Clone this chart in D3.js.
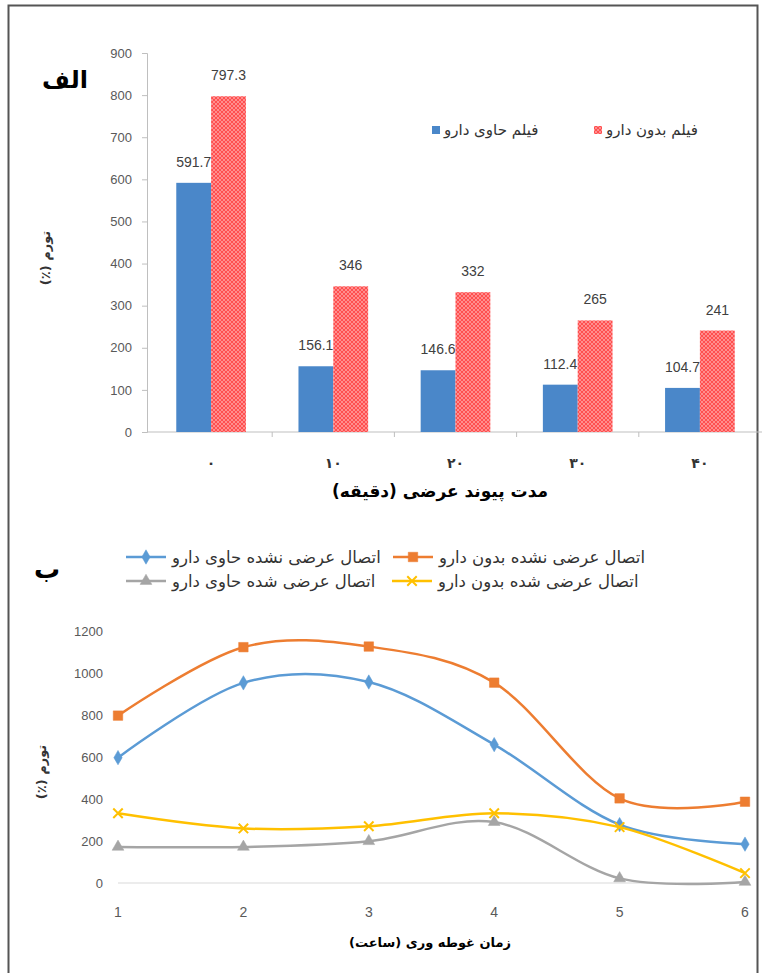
<!DOCTYPE html>
<html>
<head>
<meta charset="utf-8">
<script src="https://cdn.jsdelivr.net/npm/d3@7"></script>
<style>
  body { margin: 0; background: #fff; }
  svg { display: block; }
  text { font-family: "DejaVu Sans", "Liberation Sans", sans-serif; }
  .num { font-family: "Liberation Sans", Arial, sans-serif; }
</style>
</head>
<body>
<svg id="chart" width="763" height="973"></svg>
<script>
// ---- chart A (bars) ----
const catsA = ['۰', '۱۰', '۲۰', '۳۰', '۴۰'];
const seriesA = ['فیلم حاوی دارو', 'فیلم بدون دارو'];
const withDrugA = [591.7, 156.1, 146.6, 112.4, 104.7];
const noDrugA = [797.3, 346, 332, 265, 241];
const yTicksA = [0, 100, 200, 300, 400, 500, 600, 700, 800, 900];

// ---- chart B (lines) ----
const hoursB = [1, 2, 3, 4, 5, 6];
const namesB = [
  'اتصال عرضی نشده حاوی دارو',
  'اتصال عرضی نشده بدون دارو',
  'اتصال عرضی شده حاوی دارو',
  'اتصال عرضی شده بدون دارو'
];
const uncrossDrugB = [597, 953, 957, 659, 278, 185];
const uncrossNoDrugB = [797, 1123, 1126, 954, 403, 387];
const crossDrugB = [172, 172, 199, 290, 22, 5];
const crossNoDrugB = [332, 260, 270, 332, 266, 47];
const yTicksB = [0, 200, 400, 600, 800, 1000, 1200];

let svg = d3.select('#chart');

// frame
svg.append('path')
  .attr('d', 'M8.5,980 V5.5 H757.5 V980')
  .attr('fill', 'none')
  .attr('stroke', '#555')
  .attr('stroke-width', 2);

// hatch for the drug-free bars
let defs = svg.append('defs');
let pat = defs.append('pattern')
  .attr('id', 'hatch')
  .attr('patternUnits', 'userSpaceOnUse')
  .attr('width', 4).attr('height', 4);
pat.append('rect').attr('width', 4).attr('height', 4).attr('fill', '#ff4f4f');
pat.append('path')
  .attr('d', 'M0,0 L4,4 M4,0 L0,4')
  .attr('stroke', '#fff')
  .attr('stroke-opacity', 0.45)
  .attr('stroke-width', 0.8);

const axisGray = '#bfbfbf';
const labelGray = '#595959';

function drawBars() {
  let x = d3.scaleBand().domain(catsA).range([150, 761])
    .paddingInner(0.43).paddingOuter(0.215);
  let sub = d3.scaleBand().domain(seriesA).range([0, x.bandwidth()]);
  let y = d3.scaleLinear().domain([0, 900]).range([432, 53]);

  let g = svg.append('g');

  // y axis
  let ya = g.append('g')
    .attr('transform', 'translate(147,0)')
    .call(d3.axisLeft(y).tickValues(yTicksA).tickSize(5).tickPadding(10));
  ya.select('.domain').attr('stroke', axisGray);
  ya.selectAll('.tick line').attr('stroke', axisGray);
  ya.selectAll('.tick text')
    .attr('class', 'num')
    .attr('fill', labelGray)
    .attr('font-size', 13);

  // x axis, ticks between the groups
  let bounds = catsA.slice(1).map(c => x(c) - x.step() * x.paddingInner() / 2);
  g.append('line')
    .attr('x1', 147).attr('x2', 762)
    .attr('y1', y(0)).attr('y2', y(0))
    .attr('stroke', axisGray);
  g.selectAll('.xtick').data(bounds).join('line')
    .attr('x1', d => d).attr('x2', d => d)
    .attr('y1', y(0)).attr('y2', y(0) + 5)
    .attr('stroke', axisGray);
  g.selectAll('.xlab').data(catsA).join('text')
    .attr('x', d => x(d) + x.bandwidth() / 2)
    .attr('y', 468)
    .attr('text-anchor', 'middle')
    .attr('font-size', 14)
    .attr('font-weight', 'bold')
    .attr('fill', '#333')
    .text(d => d);

  let rows = [
    { name: seriesA[0], vals: withDrugA, fill: '#4a87c9' },
    { name: seriesA[1], vals: noDrugA, fill: 'url(#hatch)' }
  ];
  rows.forEach(r => {
    g.selectAll(null).data(r.vals).join('rect')
      .attr('x', (d, i) => x(catsA[i]) + sub(r.name))
      .attr('y', d => y(d))
      .attr('width', sub.bandwidth())
      .attr('height', d => y(0) - y(d))
      .attr('fill', r.fill);
    g.selectAll(null).data(r.vals).join('text')
      .attr('class', 'num')
      .attr('x', (d, i) => x(catsA[i]) + sub(r.name) + sub.bandwidth() / 2)
      .attr('y', d => y(d) - 16)
      .attr('text-anchor', 'middle')
      .attr('font-size', 14)
      .attr('fill', '#404040')
      .text(d => d);
  });

  // legend
  let leg = [
    { x: 432, name: seriesA[0], fill: '#4a87c9' },
    { x: 594, name: seriesA[1], fill: 'url(#hatch)' }
  ];
  leg.forEach(l => {
    g.append('rect').attr('x', l.x).attr('y', 126).attr('width', 8).attr('height', 8).attr('fill', l.fill);
    g.append('text').attr('x', l.x + 12).attr('y', 135)
      .attr('font-size', 15).attr('fill', '#333').text(l.name);
  });

  // titles
  g.append('text').attr('x', 65).attr('y', 88)
    .attr('text-anchor', 'middle').attr('font-size', 24).attr('font-weight', 'bold')
    .text('الف');
  g.append('text')
    .attr('transform', 'translate(50,258) rotate(-90)')
    .attr('direction', 'rtl')
    .attr('text-anchor', 'middle').attr('font-size', 13).attr('font-weight', 'bold')
    .attr('fill', '#333')
    .text('تورم (٪)');
  g.append('text').attr('x', 440).attr('y', 497)
    .attr('direction', 'rtl')
    .attr('text-anchor', 'middle').attr('font-size', 17).attr('font-weight', 'bold')
    .text('مدت پیوند عرضی (دقیقه)');
}

function drawLines() {
  let x = d3.scalePoint().domain(hoursB).range([118, 745]);
  let y = d3.scaleLinear().domain([0, 1200]).range([883, 631]);
  let g = svg.append('g');

  g.append('line')
    .attr('x1', 118).attr('x2', 745)
    .attr('y1', y(0)).attr('y2', y(0))
    .attr('stroke', '#d9d9d9');

  g.selectAll('.ylab').data(yTicksB).join('text')
    .attr('class', 'num')
    .attr('x', 103).attr('y', d => y(d)).attr('dy', '0.35em')
    .attr('text-anchor', 'end')
    .attr('font-size', 13).attr('fill', labelGray)
    .text(d => d);
  g.selectAll('.xlab').data(hoursB).join('text')
    .attr('class', 'num')
    .attr('x', d => x(d)).attr('y', 917)
    .attr('text-anchor', 'middle')
    .attr('font-size', 14).attr('fill', labelGray)
    .text(d => d);

  let sx = d3.symbolX || d3.symbolCross;
  let series = [
    { name: namesB[0], vals: uncrossDrugB, color: '#5b9bd5', sym: d3.symbolDiamond, size: 60, fill: true },
    { name: namesB[1], vals: uncrossNoDrugB, color: '#ed7d31', sym: d3.symbolSquare, size: 90, fill: true },
    { name: namesB[2], vals: crossDrugB, color: '#a5a5a5', sym: d3.symbolTriangle, size: 60, fill: true },
    { name: namesB[3], vals: crossNoDrugB, color: '#ffc000', sym: sx, size: 60, fill: false }
  ];

  let line = d3.line()
    .x((d, i) => x(hoursB[i]))
    .y(d => y(d))
    .curve(d3.curveCatmullRom.alpha(0));

  function marker(sel, s) {
    sel.attr('d', d3.symbol(s.sym, s.size))
      .attr('fill', s.fill ? s.color : 'none')
      .attr('stroke', s.color)
      .attr('stroke-width', s.fill ? 0.5 : 2);
  }

  series.forEach(s => {
    g.append('path')
      .attr('d', line(s.vals))
      .attr('fill', 'none')
      .attr('stroke', s.color)
      .attr('stroke-width', 2.5);
    g.selectAll(null).data(s.vals).join('path')
      .attr('transform', (d, i) => `translate(${x(hoursB[i])},${y(d)})`)
      .call(marker, s);
  });

  // legend, two rows
  let legPos = [
    { x: 126, y: 557, s: series[0] },
    { x: 393, y: 557, s: series[1] },
    { x: 126, y: 581, s: series[2] },
    { x: 392, y: 581, s: series[3] }
  ];
  legPos.forEach(p => {
    g.append('line')
      .attr('x1', p.x).attr('x2', p.x + 40)
      .attr('y1', p.y).attr('y2', p.y)
      .attr('stroke', p.s.color).attr('stroke-width', 2.5);
    g.append('path')
      .attr('transform', `translate(${p.x + 20},${p.y})`)
      .call(marker, p.s);
    g.append('text').attr('x', p.x + 46).attr('y', p.y).attr('dy', '0.35em')
      .attr('font-size', 16.5).attr('fill', '#333').text(p.s.name);
  });

  g.append('text').attr('x', 47).attr('y', 578)
    .attr('text-anchor', 'middle').attr('font-size', 26).attr('font-weight', 'bold')
    .text('ب');
  g.append('text')
    .attr('transform', 'translate(46,772) rotate(-90)')
    .attr('direction', 'rtl')
    .attr('text-anchor', 'middle').attr('font-size', 13).attr('font-weight', 'bold')
    .attr('fill', '#333')
    .text('تورم (٪)');
  g.append('text').attr('x', 430).attr('y', 947)
    .attr('direction', 'rtl')
    .attr('text-anchor', 'middle').attr('font-size', 13).attr('font-weight', 'bold')
    .text('زمان غوطه وری (ساعت)');
}

drawBars();
drawLines();
</script>
</body>
</html>
